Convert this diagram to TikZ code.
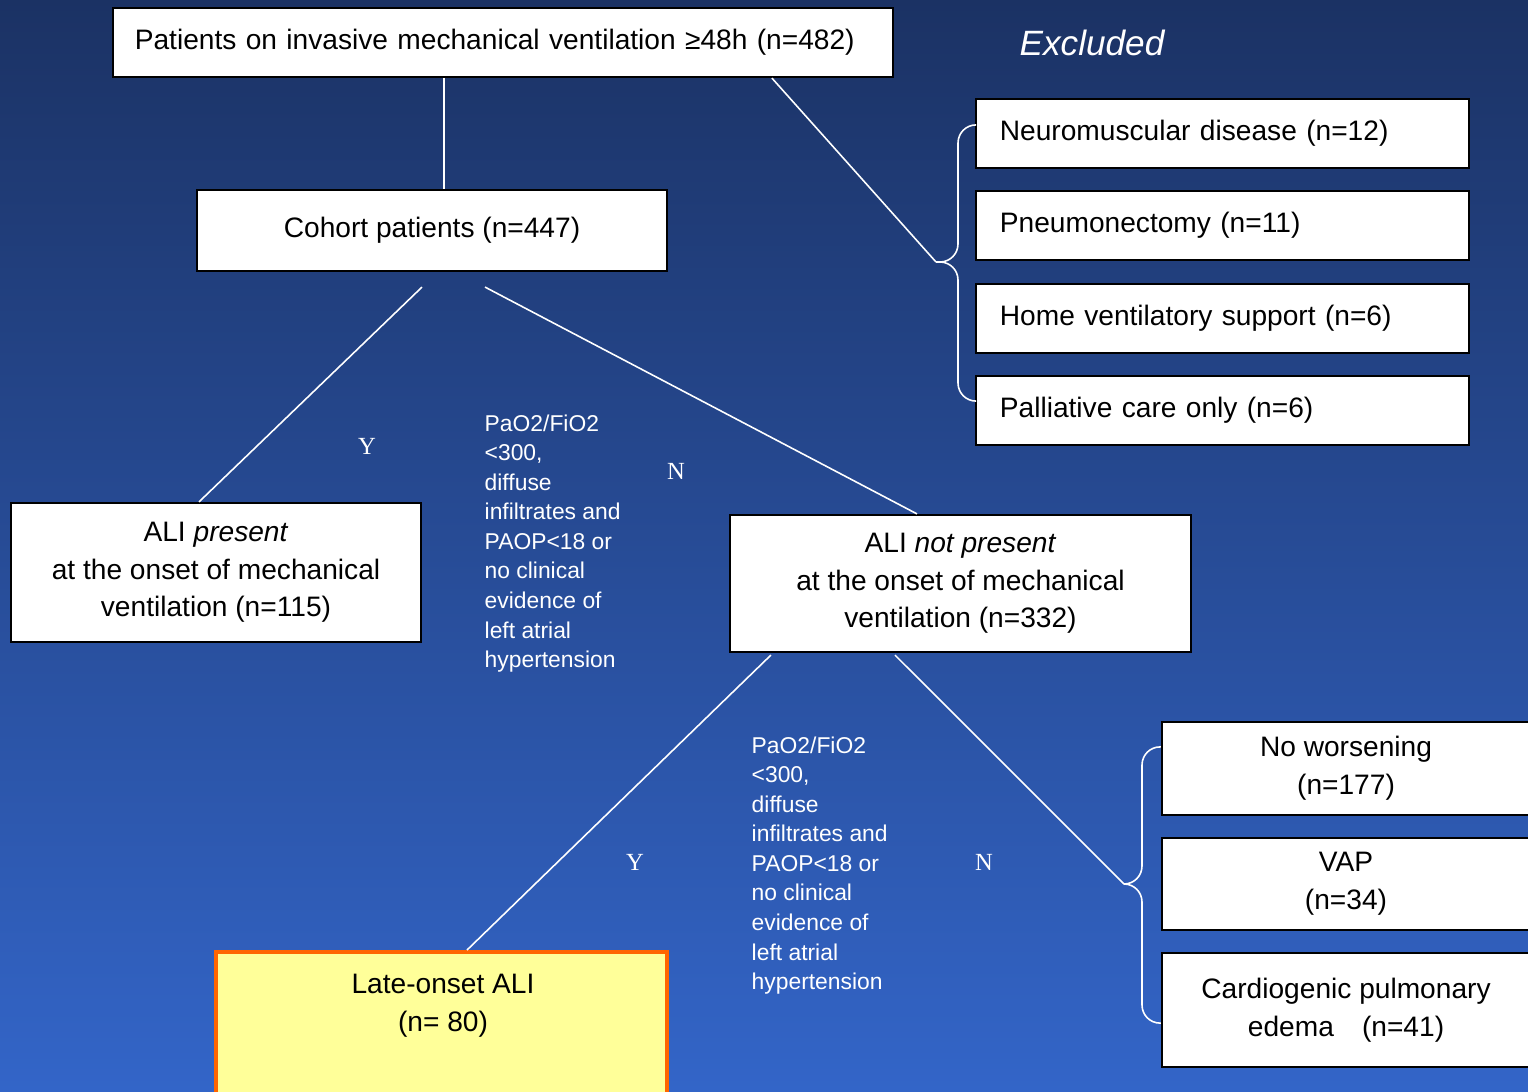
\documentclass[tikz,border=0pt]{standalone}
\usepackage{fontspec}
\setmainfont{Liberation Sans}
\newfontfamily\ynfont{Liberation Serif}
\usetikzlibrary{calc}

\definecolor{bgTop}{RGB}{27,50,100}
\definecolor{bgBot}{RGB}{51,101,200}
\definecolor{lateFill}{RGB}{255,255,153}
\definecolor{lateLine}{RGB}{255,102,0}

\newcommand\boxfont{\fontsize{8}{10.7}\selectfont}
\newcommand\critfont{\fontsize{6.5}{8.4}\selectfont}

\tikzset{
  box/.style={draw=black, line width=0.6pt, fill=white, align=center, inner sep=0pt, font=\boxfont},
  exbox/.style={box, minimum height=0.69cm, inner xsep=0.24cm, text width=4.45cm, align=left},
  outbox/.style={box, minimum width=3.68cm},
  conn/.style={draw=white, line width=0.45pt},
  yn/.style={text=white, font=\ynfont\fontsize{7}{8}\selectfont},
  crit/.style={text=white, align=left, anchor=north west, inner sep=0pt, font=\critfont},
}

\begin{document}
\begin{tikzpicture}[x=0.01cm,y=-0.01cm]
\useasboundingbox (0,0) rectangle (1528,1091);
\fill[top color=bgTop, bottom color=bgBot] (0,0) rectangle (1528,1091);

% main flow
\node[box, minimum width=7.8cm, minimum height=0.69cm, text width=7.36cm, align=left] (top) at (503,42.5) {Patients on invasive mechanical ventilation ≥48h (n=482)};
\node[box, minimum width=4.7cm, minimum height=0.81cm] (cohort) at (432,230.5) {Cohort patients (n=447)};
\node[box, minimum width=4.1cm, minimum height=1.39cm] (present) at (216,572.5) {ALI \textit{present}\\at the onset of mechanical\\ventilation (n=115)};
\node[box, minimum width=4.61cm, minimum height=1.37cm] (notpresent) at (960.5,583.5) {ALI \textit{not present}\\at the onset of mechanical\\ventilation (n=332)};
\node[box, draw=lateLine, fill=lateFill, line width=1.1pt, minimum width=4.51cm, minimum height=1.5cm] (late) at (441.5,1027) {};
\node[font=\boxfont, align=center, inner sep=0pt] (lateTxt) at (443,1006) {Late-onset ALI\\(n= 80)};

% excluded
\node[text=white, font=\fontsize{10}{12}\selectfont\itshape] (exTitle) at (1092,43) {Excluded};
\node[exbox] (ex1) at (1222.5,133.5) {Neuromuscular disease (n=12)};
\node[exbox] (ex2) at (1222.5,225.5) {Pneumonectomy (n=11)};
\node[exbox] (ex3) at (1222.5,318.5) {Home ventilatory support (n=6)};
\node[exbox] (ex4) at (1222.5,410.5) {Palliative care only (n=6)};

% outcomes
\node[outbox, minimum height=0.93cm] (out1) at (1346,768.5) {No worsening\\(n=177)};
\node[outbox, minimum height=0.92cm] (out2) at (1346,884) {VAP\\(n=34)};
\node[outbox, minimum height=1.14cm] (out3) at (1346,1010) {Cardiogenic pulmonary\\edema\quad(n=41)};

% criteria and branch labels
\node[crit] (crit1) at (484,414) {PaO2/FiO2\\<300,\\diffuse\\infiltrates and\\PAOP<18 or\\no clinical\\evidence of\\left atrial\\hypertension};
\node[crit] (crit2) at (751,736) {PaO2/FiO2\\<300,\\diffuse\\infiltrates and\\PAOP<18 or\\no clinical\\evidence of\\left atrial\\hypertension};
\node[yn] (y1) at (367,446) {Y};
\node[yn] (n1) at (676,471) {N};
\node[yn] (y2) at (635,862) {Y};
\node[yn] (n2) at (984,862) {N};

% connectors
\coordinate (exTip) at (936,262);
\coordinate (outTip) at (1124,884);
\draw[conn] ([xshift=0.12cm]cohort.north) -- ([xshift=0.12cm]cohort.north |- top.south);
\draw[conn] ($(top.south west)!0.8436!(top.south east)$) -- (exTip);
\draw[conn] ([xshift=-0.1cm,yshift=-0.15cm]cohort.south) -- ([xshift=-0.17cm]present.north);
\draw[conn] ([xshift=0.53cm,yshift=-0.15cm]cohort.south) -- ([xshift=-0.435cm]notpresent.north);
\draw[conn] ([xshift=-1.895cm,yshift=-0.02cm]notpresent.south) -- ([xshift=0.255cm]late.north);
\draw[conn] ([xshift=-0.655cm,yshift=-0.02cm]notpresent.south) -- (outTip);

% braces
\draw[conn, rounded corners=0.18cm] ($(ex1.north west)+(0,27)$) -| ($(exTip)+(22,0)$) -- (exTip);
\draw[conn, rounded corners=0.18cm] (exTip) -- ($(exTip)+(22,0)$) |- ($(ex4.south west)+(0,-45)$);
\draw[conn, rounded corners=0.18cm] ($(out1.north west)+(0,26)$) -| ($(outTip)+(18,0)$) -- (outTip);
\draw[conn, rounded corners=0.18cm] (outTip) -- ($(outTip)+(18,0)$) |- ($(out3.south west)+(0,-45)$);
\end{tikzpicture}
\end{document}
